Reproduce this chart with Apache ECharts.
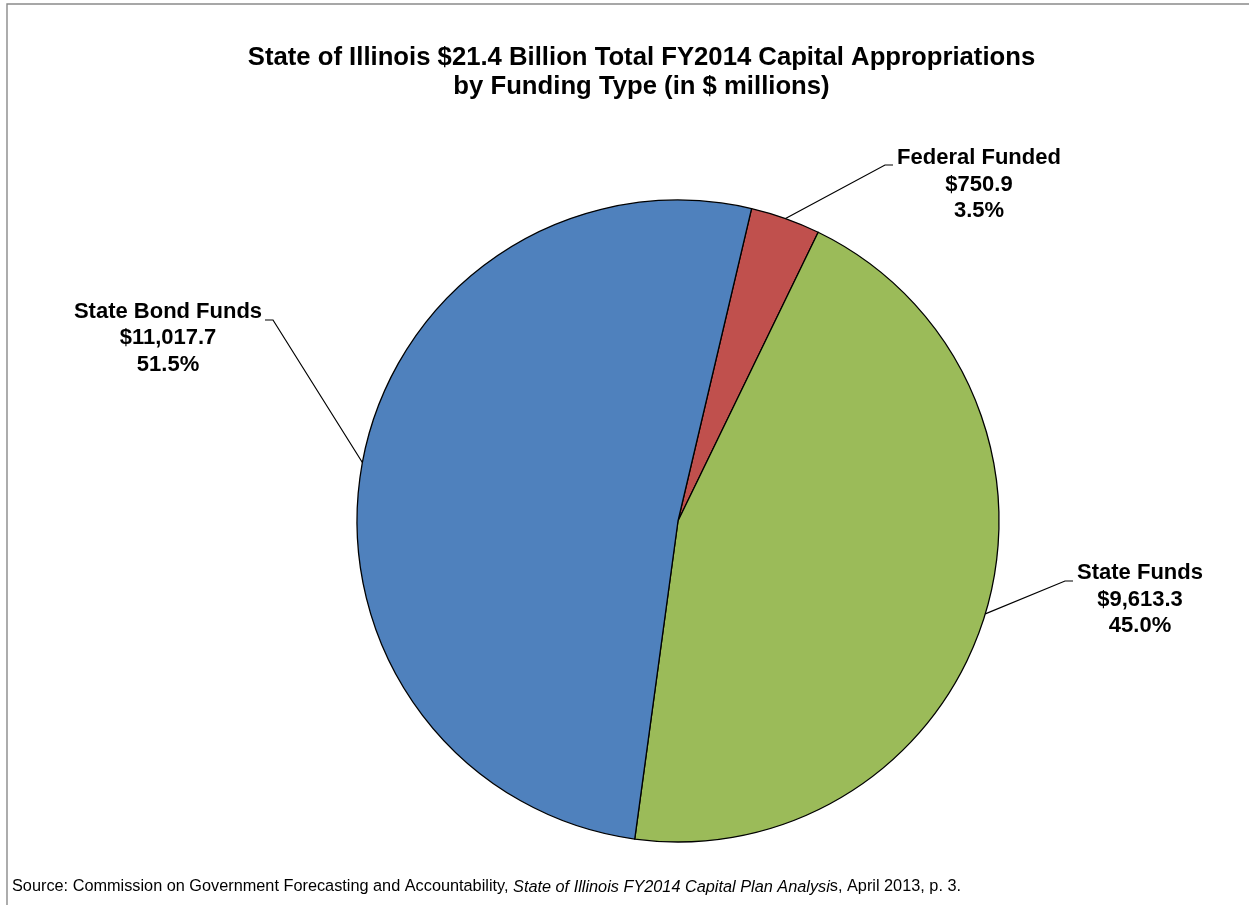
<!DOCTYPE html>
<html>
<head>
<meta charset="utf-8">
<title>FY2014 Capital Appropriations by Funding Type</title>
<script src="https://cdn.jsdelivr.net/npm/echarts@6/dist/echarts.min.js"></script>
<style>
  html, body { margin: 0; padding: 0; background: #fff; }
  #chart { width: 1249px; height: 905px; }
</style>
</head>
<body>
<div id="chart"></div>
<script>
// Funding types, clockwise from the top of the pie ($ millions)
const categories = ['Federal Funded', 'State Funds', 'State Bond Funds'];
const amounts = [750.9, 9613.3, 11017.7];
const sliceColors = ['#C0504D', '#9BBB59', '#4F81BD'];

const titleLines = [
  'State of Illinois $21.4 Billion Total FY2014 Capital Appropriations',
  'by Funding Type (in $ millions)'
];
const sourcePlain = 'Source: Commission on Government Forecasting and Accountability, ';
const sourceItalic = 'State of Illinois FY2014 Capital Plan Analysi';
const sourceTail = 's, April 2013, p. 3.';

const FONT = "'Liberation Sans', Arial, Helvetica, sans-serif";

// Where each callout sits: text block centre / top, leader elbow and end
const calloutLayout = [
  { cx: 979, top: 145, elbow: [885, 165], end: [893, 165] },
  { cx: 1140, top: 560, elbow: [1065, 581], end: [1073, 581] },
  { cx: 168, top: 298.5, elbow: [273, 320], end: [265, 320] }
];

function money(v) {
  return '$' + v.toLocaleString('en-US', { minimumFractionDigits: 1, maximumFractionDigits: 1 });
}

const chart = echarts.init(document.getElementById('chart'), null, { renderer: 'canvas' });

chart.setOption({
  animation: false,
  backgroundColor: '#ffffff',
  graphic: [
    {
      type: 'rect',
      silent: true,
      shape: { x: 7, y: 4, width: 1400, height: 1000 },
      style: { fill: 'none', stroke: '#8a8a8a', lineWidth: 1.4 }
    },
    {
      type: 'text',
      silent: true,
      x: 641.5,
      y: 58,
      style: {
        text: titleLines[0],
        font: 'bold 25.7px ' + FONT,
        fill: '#000',
        align: 'center',
        verticalAlign: 'middle'
      }
    },
    {
      type: 'text',
      silent: true,
      x: 641.5,
      y: 86.5,
      style: {
        text: titleLines[1],
        font: 'bold 25.7px ' + FONT,
        fill: '#000',
        align: 'center',
        verticalAlign: 'middle'
      }
    },
    {
      type: 'text',
      silent: true,
      x: 12,
      y: 887,
      style: {
        text: '{n|' + sourcePlain + '}{i|' + sourceItalic + '}{n|' + sourceTail + '}',
        align: 'left',
        verticalAlign: 'middle',
        rich: {
          n: { fontFamily: FONT, fontSize: 16.3, fill: '#000', color: '#000' },
          i: { fontFamily: FONT, fontSize: 16.3, fontStyle: 'italic', fill: '#000', color: '#000' }
        }
      }
    }
  ],
  series: [
    {
      type: 'pie',
      center: [678, 521],
      radius: 321,
      startAngle: 76.75,
      clockwise: true,
      avoidLabelOverlap: false,
      silent: true,
      data: categories.map((name, i) => ({
        name: name,
        value: amounts[i],
        itemStyle: { color: sliceColors[i] }
      })),
      itemStyle: { borderColor: '#000', borderWidth: 1.3 },
      label: {
        show: true,
        position: 'outside',
        fontFamily: FONT,
        fontSize: 22,
        fontWeight: 'bold',
        color: '#000',
        lineHeight: 26.5,
        align: 'center',
        formatter: (p) => p.name + '\n' + money(p.value) + '\n' + p.percent.toFixed(1) + '%'
      },
      labelLine: {
        show: true,
        length: 20,
        length2: 10,
        smooth: false,
        lineStyle: { color: '#000', width: 1.2 }
      },
      labelLayout: function (params) {
        const spot = calloutLayout[params.dataIndex];
        const start = params.labelLinePoints[0];
        return {
          x: spot.cx,
          y: spot.top,
          align: 'center',
          verticalAlign: 'top',
          labelLinePoints: [start, spot.elbow, spot.end]
        };
      },
      emphasis: { disabled: true }
    }
  ]
});
</script>
</body>
</html>
